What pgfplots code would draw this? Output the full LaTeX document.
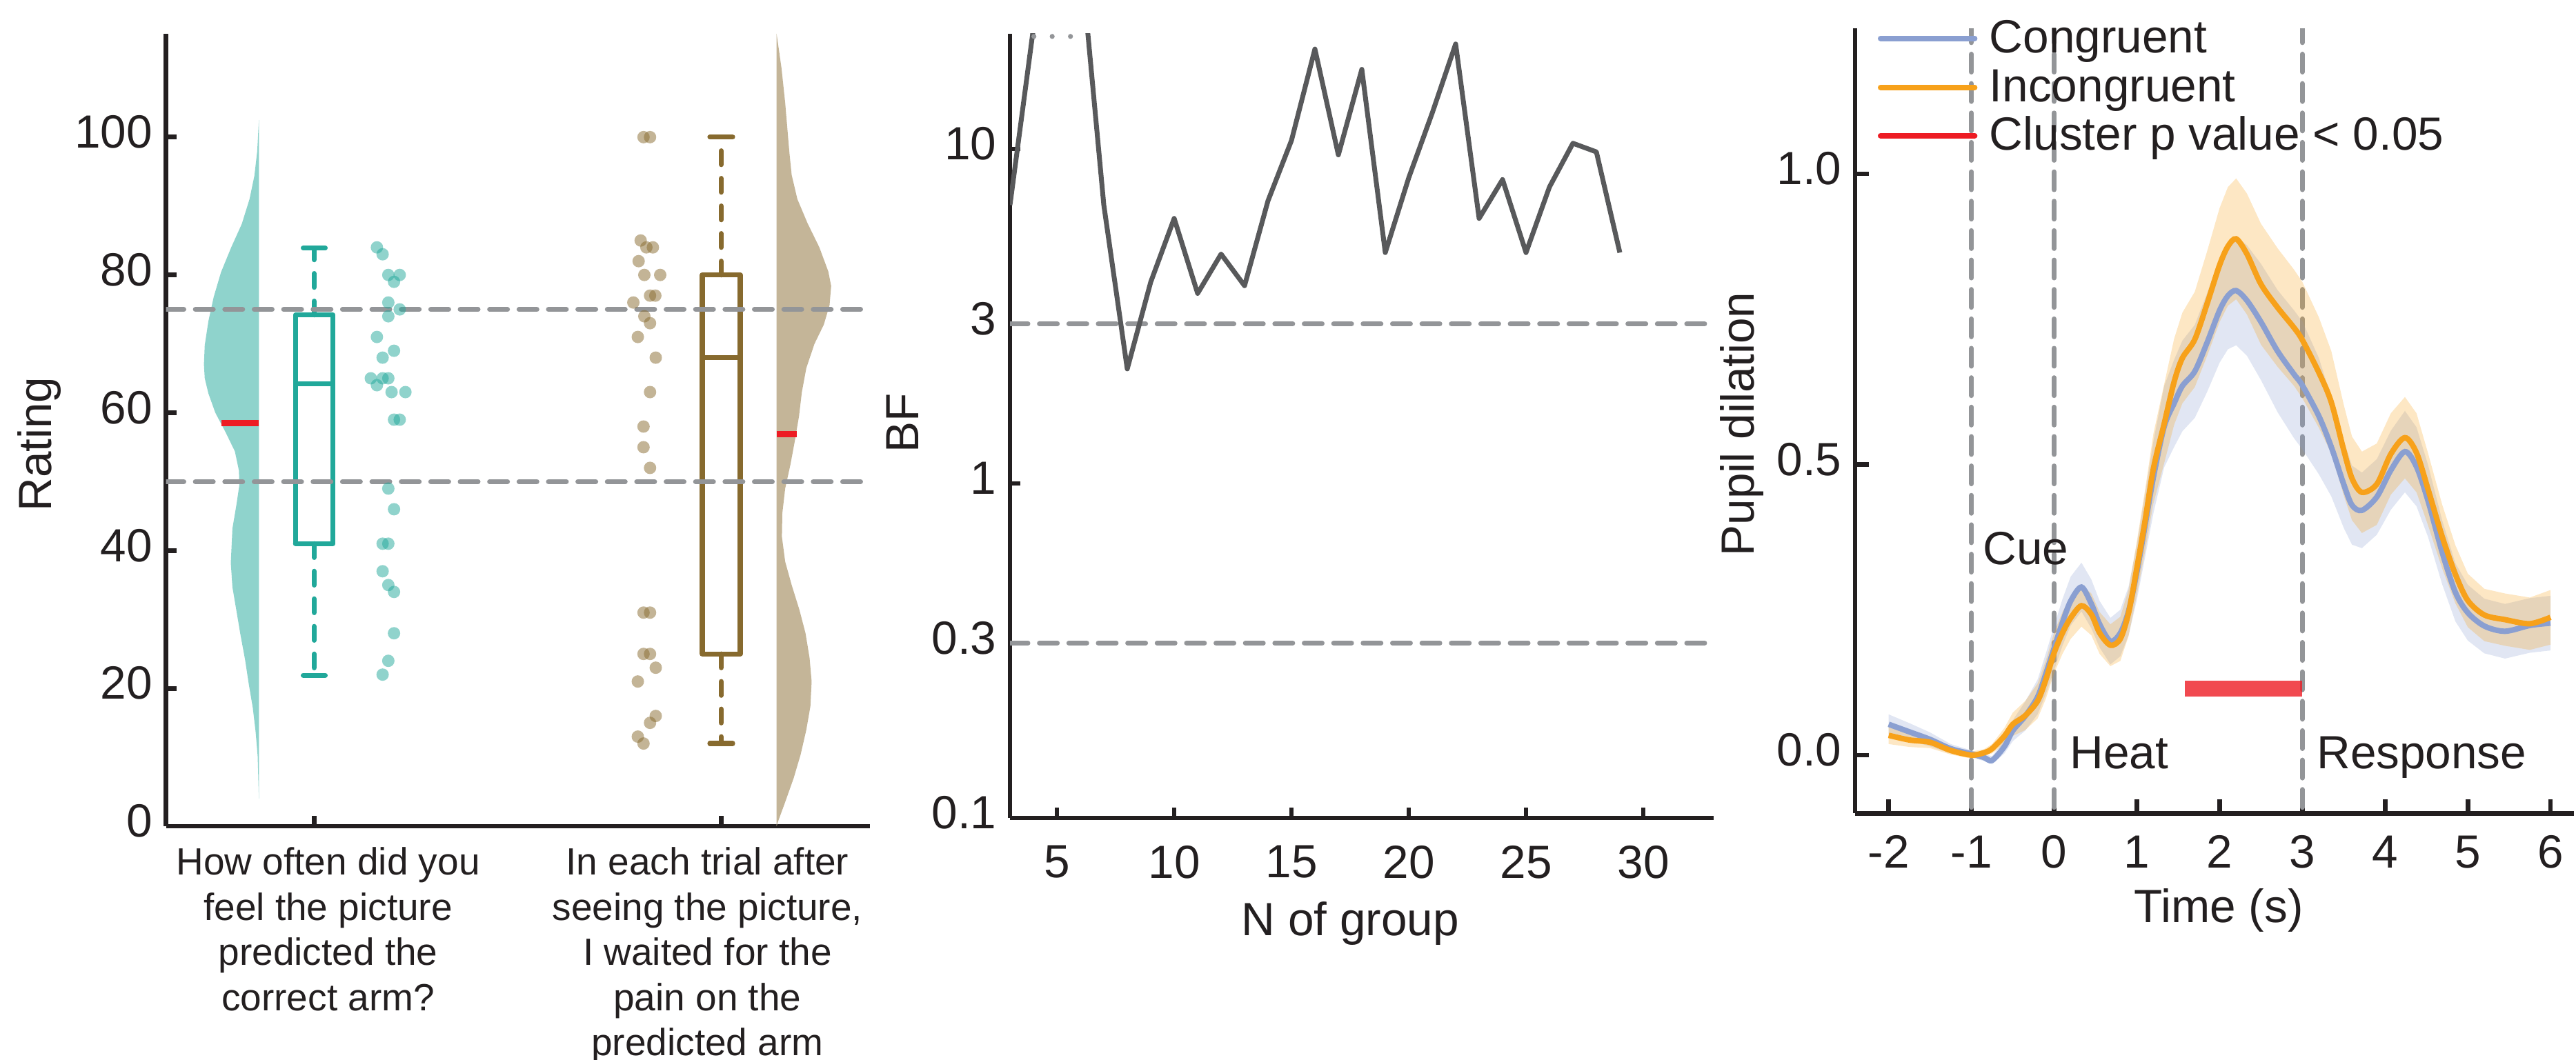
\documentclass[border=0pt]{standalone}
\usepackage{fontspec}
\setmainfont{Liberation Sans}
\usepackage{pgfplots}
\pgfplotsset{compat=1.18}
\usepackage{pgfplotstable}

\definecolor{axisblack}{HTML}{231F20}
\definecolor{dashgray}{HTML}{939598}
\definecolor{tealbox}{HTML}{21A89A}
\definecolor{tealviolin}{HTML}{8FD3CC}
\definecolor{brownbox}{HTML}{876A2E}
\definecolor{brownviolin}{HTML}{C4B598}
\definecolor{meanred}{HTML}{ED1C24}
\definecolor{bfgray}{HTML}{58595B}
\definecolor{congblue}{HTML}{8A9FD1}
\definecolor{incongorange}{HTML}{F7A11A}

\pgfplotstableread{
t m
-2 0.053
-1.75 0.040
-1.5 0.027
-1.25 0.011
-1 0.002
-0.85 -0.004
-0.75 -0.009
-0.6 0.015
-0.5 0.042
-0.35 0.067
-0.2 0.100
-0.1 0.140
0 0.184
0.1 0.228
0.2 0.265
0.33 0.289
0.45 0.260
0.55 0.225
0.68 0.196
0.8 0.210
0.9 0.248
1.0 0.315
1.1 0.396
1.2 0.478
1.33 0.565
1.45 0.605
1.55 0.635
1.7 0.660
1.85 0.710
2.0 0.765
2.1 0.790
2.2 0.799
2.33 0.782
2.5 0.745
2.7 0.695
2.9 0.655
3.0 0.636
3.2 0.583
3.35 0.530
3.5 0.466
3.6 0.430
3.72 0.421
3.9 0.444
4.07 0.490
4.24 0.522
4.38 0.496
4.52 0.437
4.69 0.349
4.85 0.280
5.0 0.245
5.2 0.222
5.45 0.213
5.75 0.223
6.0 0.227
}\congtab

\pgfplotstableread{
t m
-2 0.034
-1.75 0.026
-1.5 0.022
-1.25 0.008
-1 0.000
-0.85 0.004
-0.75 0.011
-0.6 0.033
-0.5 0.053
-0.35 0.068
-0.2 0.093
-0.1 0.130
0 0.176
0.1 0.210
0.2 0.236
0.33 0.257
0.45 0.242
0.55 0.210
0.68 0.189
0.8 0.200
0.9 0.245
1.0 0.322
1.1 0.404
1.2 0.493
1.33 0.570
1.45 0.642
1.55 0.683
1.7 0.715
1.85 0.777
2.0 0.843
2.1 0.875
2.2 0.888
2.33 0.862
2.5 0.810
2.7 0.770
2.9 0.735
3.0 0.714
3.2 0.658
3.35 0.607
3.5 0.525
3.6 0.476
3.72 0.452
3.9 0.466
4.07 0.518
4.24 0.546
4.38 0.520
4.52 0.457
4.69 0.376
4.85 0.311
5.0 0.266
5.2 0.241
5.45 0.233
5.75 0.226
6.0 0.237
}\incongtab

\pgfplotstableread{
n bf
3 6.8
4 23
5 40
6 38.6
7 6.8
8 2.2
9 4.0
10 6.2
11 3.7
12 4.85
13 3.9
14 7.0
15 10.6
16 19.9
17 9.6
18 17.3
19 4.9
20 8.2
21 12.8
22 20.6
23 6.2
24 8.1
25 4.9
26 7.7
27 10.4
28 9.8
29 4.9
}\bftab

\pgfplotsset{
 panel/.style={
  scale only axis, anchor=south west, clip mode=individual,
  axis x line*=bottom, axis y line*=left,
  axis line style={-, line width=1.35pt, draw=axisblack},
  tick style={line width=1.35pt, draw=axisblack},
  tick align=inside, major tick length=3pt,
  minor tick num=0,
  tick label style={font=\fontsize{13.5}{16}\selectfont, text=axisblack, inner sep=0pt},
  label style={font=\fontsize{13.5}{16}\selectfont, text=axisblack},
  /pgf/number format/assume math mode=true,
  scaled ticks=false,
  yticklabel style={anchor=east, xshift=-3.7pt, yshift=1.5pt},
  xticklabel style={anchor=north, yshift=-7.8pt},
 },
 refdash/.style={dashgray, line width=1.4pt, line cap=round, dash pattern=on 5.2pt off 3.33pt},
 whisk/.style={line width=1.45pt, line cap=round, dash pattern=on 4pt off 4pt},
}

\begin{document}
\begin{tikzpicture}
\useasboundingbox (0,0) rectangle (746.8pt,307.4pt);

% ---------------- Left panel ----------------
\begin{axis}[panel,
 at={(48.1pt,67.8pt)}, width=204pt, height=229.8pt,
 xmin=0.6356, xmax=2.3644, ymin=0, ymax=115,
 xtick={1,2}, xticklabels={,},
 ytick={0,20,40,60,80,100}, yticklabels={0,20,40,60,80,100},
 ylabel={Rating},
 ylabel style={at={(axis description cs:-0.180,0.482)}, anchor=center},
]
\addplot[fill=tealviolin, draw=none] coordinates {
(0.864,102.5) (0.860,98) (0.853,94.4) (0.841,91) (0.822,87.4) (0.796,84) (0.771,80.4) (0.753,76.8) (0.740,73.3) (0.731,69.8) (0.729,67) (0.731,65) (0.740,62.8) (0.757,60) (0.782,57.2) (0.805,54.4) (0.815,51.6) (0.816,49.5) (0.809,46.7) (0.799,43.2) (0.795,38.2) (0.799,34.7) (0.809,31.2) (0.819,27.7) (0.830,24.2) (0.839,20.7) (0.849,17.2) (0.856,13.7) (0.861,10.2) (0.864,4)};
\addplot[fill=brownviolin, draw=none] coordinates {
(2.136,115) (2.148,110) (2.157,105) (2.167,98) (2.173,94.5) (2.187,91) (2.212,87.5) (2.241,84) (2.263,80.5) (2.270,78.4) (2.266,75.6) (2.252,72.8) (2.229,70) (2.209,66.5) (2.198,63) (2.191,59.5) (2.181,56) (2.170,52.5) (2.157,49) (2.150,45.4) (2.149,42) (2.157,38.4) (2.173,35) (2.192,31.4) (2.207,28) (2.217,24.4) (2.222,21) (2.219,17.4) (2.209,14) (2.195,10.4) (2.178,7) (2.157,3.5) (2.139,0.6) (2.136,0)};
\addplot[meanred, line width=1.8pt] coordinates {(0.772,58.5) (0.864,58.5)};
\addplot[meanred, line width=1.8pt] coordinates {(2.136,56.9) (2.186,56.9)};
\addplot[tealbox, line width=1.45pt, line join=round, line cap=round] coordinates {(0.954,41) (1.046,41) (1.046,74.2) (0.954,74.2) (0.954,41)};
\addplot[tealbox, line width=1.45pt] coordinates {(0.954,64.2) (1.046,64.2)};
\addplot[tealbox, whisk] coordinates {(1,74.2) (1,83.9)};
\addplot[tealbox, whisk] coordinates {(1,41) (1,21.9)};
\addplot[tealbox, line width=1.45pt, line cap=round] coordinates {(0.973,83.9) (1.027,83.9)};
\addplot[tealbox, line width=1.45pt, line cap=round] coordinates {(0.973,21.9) (1.027,21.9)};
\addplot[brownbox, line width=1.45pt, line join=round, line cap=round] coordinates {(1.9534,25) (2.0466,25) (2.0466,80) (1.9534,80) (1.9534,25)};
\addplot[brownbox, line width=1.45pt] coordinates {(1.9534,68) (2.0466,68)};
\addplot[brownbox, whisk] coordinates {(2,80) (2,100)};
\addplot[brownbox, whisk] coordinates {(2,25) (2,12)};
\addplot[brownbox, line width=1.45pt, line cap=round] coordinates {(1.972,100) (2.028,100)};
\addplot[brownbox, line width=1.45pt, line cap=round] coordinates {(1.972,12) (2.028,12)};
\addplot[refdash] coordinates {(0.6356,75) (2.35,75)};
\addplot[refdash] coordinates {(0.6356,50) (2.35,50)};
\addplot[only marks, mark=*, mark size=1.8pt, mark options={draw opacity=0, fill=tealbox, fill opacity=0.5}] coordinates {
(1.154,84) (1.168,83) (1.182,80) (1.210,80) (1.196,79) (1.182,76) (1.210,75) (1.182,74) (1.154,71) (1.196,69) (1.168,68) (1.139,65) (1.168,65) (1.182,65) (1.154,64) (1.190,63) (1.224,63) (1.196,59) (1.210,59) (1.182,49) (1.196,46) (1.168,41) (1.182,41) (1.168,37) (1.182,35) (1.196,34) (1.196,28) (1.182,24) (1.168,22)};
\addplot[only marks, mark=*, mark size=1.8pt, mark options={draw opacity=0, fill=brownbox, fill opacity=0.5}] coordinates {
(1.809,100) (1.825,100) (1.802,85) (1.816,84) (1.832,84) (1.797,82) (1.811,80) (1.850,80) (1.825,77) (1.838,77) (1.784,76) (1.811,74) (1.825,73) (1.795,71) (1.839,68) (1.825,63) (1.809,58) (1.809,55) (1.825,52) (1.809,31) (1.825,31) (1.809,25) (1.825,25) (1.839,23) (1.795,21) (1.839,16) (1.825,15) (1.795,13) (1.809,12)};
\node[anchor=north, align=center, font=\fontsize{11}{13.1}\selectfont, text=axisblack, inner sep=0pt] at (axis cs:1.034,-3.0) {How often did you\\feel the picture\\predicted the\\correct arm?};
\node[anchor=north, align=center, font=\fontsize{11}{13.1}\selectfont, text=axisblack, inner sep=0pt] at (axis cs:1.966,-3.0) {In each trial after\\seeing the picture,\\I waited for the\\pain on the\\predicted arm};
\end{axis}

% ---------------- Middle panel ----------------
\begin{axis}[panel, ymode=log,
 at={(292.8pt,70.2pt)}, width=204pt, height=227.4pt,
 xmin=3, xmax=33, ymin=0.1, ymax=22.1,
 xtick={5,10,15,20,25,30}, xticklabels={5,10,15,20,25,30},
 ytick={0.1,0.33333,1,3,10}, yticklabels={0.1,0.3,1,3,10},
 minor ytick={},
 xlabel={N of group}, ylabel={BF},
 xlabel style={at={(axis description cs:0.4835,-0.150)}, anchor=base},
 ylabel style={at={(axis description cs:-0.153,0.504)}, anchor=center},
]
\addplot[refdash] coordinates {(3,3) (32.8,3)};
\addplot[refdash] coordinates {(3,0.33333) (32.8,0.33333)};
\addplot[bfgray, line width=1.4pt, line join=round] table[x=n, y=bf]{\bftab};
\addplot[dashgray, line width=1.45pt, line cap=round, dash pattern=on 0pt off 5.3pt] coordinates {(4.02,21.7) (6.32,21.7)};
\end{axis}

% ---------------- Right panel ----------------
\begin{axis}[panel,
 at={(537.8pt,71.56pt)}, width=208.4pt, height=227.6pt,
 xmin=-2.406, xmax=6.283, ymin=-0.1, ymax=1.25,
 major tick length=4pt,
 xtick={-2,-1,0,1,2,3,4,5,6}, xticklabels={-2,-1,0,1,2,3,4,5,6},
 ytick={0,0.5,1}, yticklabels={0.0,0.5,1.0},
 xticklabel style={yshift=1.5pt},
 xlabel={Time (s)}, ylabel={Pupil dilation},
 xlabel style={at={(axis description cs:0.506,-0.1395)}, anchor=base},
 ylabel style={at={(axis description cs:-0.157,0.496)}, anchor=center},
]
\addplot[refdash] coordinates {(-1,-0.09) (-1,1.25)};
\addplot[refdash] coordinates {(0,-0.09) (0,1.25)};
\addplot[refdash] coordinates {(3,-0.09) (3,1.25)};
\addplot[meanred, opacity=0.8, line width=4.5pt] coordinates {(1.58,0.1145) (2.995,0.1145)};
% confidence bands (upper edge forward, lower edge backward)
\addplot[fill=congblue, fill opacity=0.26, draw=none] coordinates {
(-2,0.070) (-1.75,0.055) (-1.5,0.039) (-1.25,0.019) (-1,0.008) (-0.85,0.002) (-0.75,-0.002) (-0.6,0.027) (-0.5,0.060) (-0.35,0.092) (-0.2,0.130) (-0.1,0.175) (0,0.222) (0.1,0.268) (0.2,0.307) (0.33,0.331) (0.45,0.302) (0.55,0.265) (0.68,0.236) (0.8,0.250) (0.9,0.290) (1.0,0.363) (1.1,0.451) (1.2,0.540) (1.33,0.635) (1.45,0.680) (1.55,0.713) (1.7,0.740) (1.85,0.795) (2.0,0.855) (2.1,0.882) (2.2,0.893) (2.33,0.877) (2.5,0.845) (2.7,0.800) (2.9,0.765) (3.0,0.746) (3.2,0.683) (3.35,0.615) (3.5,0.541) (3.6,0.498) (3.72,0.486) (3.9,0.509) (4.07,0.558) (4.24,0.592) (4.38,0.564) (4.52,0.499) (4.69,0.404) (4.85,0.330) (5.0,0.293) (5.2,0.269) (5.45,0.260) (5.75,0.270) (6.0,0.274)
(6.0,0.180) (5.75,0.176) (5.45,0.166) (5.2,0.175) (5.0,0.197) (4.85,0.230) (4.69,0.294) (4.52,0.375) (4.38,0.428) (4.24,0.452) (4.07,0.422) (3.9,0.379) (3.72,0.356) (3.6,0.362) (3.5,0.391) (3.35,0.445) (3.2,0.483) (3.0,0.526) (2.9,0.545) (2.7,0.590) (2.5,0.645) (2.33,0.687) (2.2,0.705) (2.1,0.698) (2.0,0.675) (1.85,0.625) (1.7,0.580) (1.55,0.557) (1.45,0.530) (1.33,0.495) (1.2,0.416) (1.1,0.341) (1.0,0.267) (0.9,0.206) (0.8,0.170) (0.68,0.156) (0.55,0.185) (0.45,0.218) (0.33,0.247) (0.2,0.223) (0.1,0.188) (0,0.146) (-0.1,0.105) (-0.2,0.070) (-0.35,0.042) (-0.5,0.024) (-0.6,0.003) (-0.75,-0.016) (-0.85,-0.010) (-1,-0.004) (-1.25,0.003) (-1.5,0.015) (-1.75,0.025) (-2,0.036)};
\addplot[fill=incongorange, fill opacity=0.26, draw=none] coordinates {
(-2,0.049) (-1.75,0.038) (-1.5,0.032) (-1.25,0.015) (-1,0.006) (-0.85,0.010) (-0.75,0.019) (-0.6,0.047) (-0.5,0.073) (-0.35,0.093) (-0.2,0.123) (-0.1,0.163) (0,0.211) (0.1,0.246) (0.2,0.272) (0.33,0.293) (0.45,0.278) (0.55,0.246) (0.68,0.225) (0.8,0.238) (0.9,0.285) (1.0,0.368) (1.1,0.457) (1.2,0.553) (1.33,0.638) (1.45,0.716) (1.55,0.761) (1.7,0.797) (1.85,0.867) (2.0,0.941) (2.1,0.977) (2.2,0.992) (2.33,0.966) (2.5,0.914) (2.7,0.872) (2.9,0.835) (3.0,0.814) (3.2,0.753) (3.35,0.695) (3.5,0.603) (3.6,0.548) (3.72,0.522) (3.9,0.536) (4.07,0.588) (4.24,0.616) (4.38,0.588) (4.52,0.519) (4.69,0.431) (4.85,0.361) (5.0,0.312) (5.2,0.286) (5.45,0.278) (5.75,0.271) (6.0,0.284)
(6.0,0.190) (5.75,0.181) (5.45,0.188) (5.2,0.196) (5.0,0.220) (4.85,0.261) (4.69,0.321) (4.52,0.395) (4.38,0.452) (4.24,0.476) (4.07,0.448) (3.9,0.396) (3.72,0.382) (3.6,0.404) (3.5,0.447) (3.35,0.519) (3.2,0.563) (3.0,0.614) (2.9,0.635) (2.7,0.668) (2.5,0.706) (2.33,0.758) (2.2,0.784) (2.1,0.773) (2.0,0.745) (1.85,0.687) (1.7,0.633) (1.55,0.605) (1.45,0.568) (1.33,0.502) (1.2,0.433) (1.1,0.351) (1.0,0.276) (0.9,0.205) (0.8,0.162) (0.68,0.153) (0.55,0.174) (0.45,0.206) (0.33,0.221) (0.2,0.200) (0.1,0.174) (0,0.141) (-0.1,0.097) (-0.2,0.063) (-0.35,0.043) (-0.5,0.033) (-0.6,0.019) (-0.75,0.003) (-0.85,-0.002) (-1,-0.006) (-1.25,0.001) (-1.5,0.012) (-1.75,0.014) (-2,0.019)};
\addplot[congblue, line width=1.6pt, smooth] table[x=t, y=m]{\congtab};
\addplot[incongorange, line width=1.6pt, smooth] table[x=t, y=m]{\incongtab};
% legend
\addplot[congblue, line width=1.6pt, line cap=round] coordinates {(-2.098,1.233) (-0.96,1.233)};
\addplot[incongorange, line width=1.6pt, line cap=round] coordinates {(-2.098,1.1485) (-0.96,1.1485)};
\addplot[meanred, line width=1.6pt, line cap=round] coordinates {(-2.098,1.0655) (-0.96,1.0655)};
\node[anchor=base west, font=\fontsize{13.5}{16}\selectfont, text=axisblack, inner sep=0pt] at (axis cs:-0.789,1.2078) {Congruent};
\node[anchor=base west, font=\fontsize{13.5}{16}\selectfont, text=axisblack, inner sep=0pt] at (axis cs:-0.789,1.1242) {Incongruent};
\node[anchor=base west, font=\fontsize{13.5}{16}\selectfont, text=axisblack, inner sep=0pt] at (axis cs:-0.789,1.0405) {Cluster p value < 0.05};
\node[anchor=base west, font=\fontsize{13.5}{16}\selectfont, text=axisblack, inner sep=0pt] at (axis cs:-0.866,0.328) {Cue};
\node[anchor=base west, font=\fontsize{13.5}{16}\selectfont, text=axisblack, inner sep=0pt] at (axis cs:0.184,-0.023) {Heat};
\node[anchor=base west, font=\fontsize{13.5}{16}\selectfont, text=axisblack, inner sep=0pt] at (axis cs:3.167,-0.023) {Response};
\end{axis}
\end{tikzpicture}
\end{document}
